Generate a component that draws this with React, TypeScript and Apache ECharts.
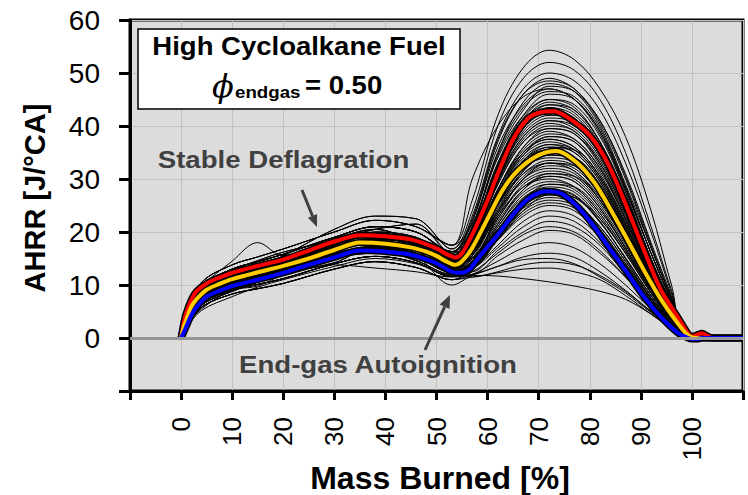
import React, { useEffect, useRef } from "react";
import * as echarts from "echarts";

// ---------- tick labels ----------
const xTickValues = [0, 10, 20, 30, 40, 50, 60, 70, 80, 90, 100];
const yTickValues = [0, 10, 20, 30, 40, 50, 60];

// ---------- individual cycles (thin black lines) ----------
// sample positions (mass burned %) for each cycle
const cycleX = [0, 1, 4, 10, 15, 20, 30, 38, 46, 53, 57, 62, 67, 72, 77, 82, 87, 92, 96, 99, 110];

// deflagration-phase profiles (x = 0 .. 53)
const cycleEarly: number[][] = [
  [0, 4.8, 10.5, 13.8, 15.3, 16.8, 20.0, 22.2, 21.0, 17.5],
  [0, 4.4, 9.8, 13.0, 14.4, 15.8, 19.0, 21.0, 20.0, 16.3],
  [0, 4.0, 9.3, 12.4, 13.7, 15.0, 18.0, 19.6, 18.5, 15.3],
  [0, 3.7, 8.8, 11.8, 13.0, 14.3, 17.3, 18.7, 17.6, 14.5],
  [0, 3.4, 8.3, 11.1, 12.4, 13.6, 16.6, 18.0, 16.8, 13.8],
  [0, 3.0, 7.8, 10.5, 11.7, 12.9, 15.8, 17.2, 16.0, 13.1],
  [0, 2.7, 7.2, 9.8, 11.0, 12.1, 15.0, 16.4, 15.2, 12.4],
  [0, 2.3, 6.5, 9.0, 10.1, 11.2, 14.0, 15.4, 14.2, 11.6],
  [0, 2.0, 5.8, 8.3, 9.3, 10.3, 13.0, 14.4, 13.3, 11.0],
  [0, 3.6, 9.5, 14.5, 18.0, 15.5, 17.0, 19.0, 17.5, 14.0],
  [0, 2.2, 5.5, 9.0, 9.8, 12.0, 15.5, 17.0, 16.5, 13.5],
  [0, 4.2, 9.8, 12.5, 13.5, 15.5, 20.5, 23.0, 22.5, 16.8],
  [0, 3.2, 8.0, 10.8, 12.2, 13.4, 16.0, 17.4, 15.5, 10.0],
  [0, 2.5, 6.8, 9.5, 10.8, 11.8, 13.8, 13.2, 12.5, 11.5],
  [0, 4.5, 10.0, 12.8, 14.6, 16.2, 18.5, 20.5, 21.5, 16.0],
  [0, 3.1, 7.5, 11.5, 13.5, 14.0, 18.5, 20.5, 18.0, 14.8],
  [0, 2.9, 7.6, 10.2, 12.9, 14.5, 16.0, 16.8, 17.0, 14.2],
  [0, 3.8, 8.6, 11.0, 11.5, 12.5, 17.5, 19.2, 17.0, 13.2],
  [0, 2.6, 7.0, 10.6, 12.0, 12.4, 14.2, 17.2, 16.4, 12.8],
  [0, 3.5, 8.5, 12.0, 13.2, 13.8, 15.2, 16.0, 15.5, 13.4],
  [0, 4.1, 9.0, 11.4, 12.0, 14.8, 17.8, 18.4, 18.6, 15.0],
  [0, 2.4, 6.2, 8.8, 10.6, 12.6, 15.4, 16.6, 14.6, 12.0],
  [0, 3.3, 8.4, 12.2, 14.0, 14.6, 17.0, 20.0, 19.0, 15.6],
  [0, 1.8, 5.2, 7.8, 9.6, 11.0, 13.5, 15.0, 14.0, 11.8],
];

// end-gas / combustion-phase profiles (x = 57 .. 110), one per cycle
const cycleLate: number[][] = [
  [26, 42, 51, 54.3, 52.5, 47, 38, 24, 10, 1, 0],
  [24, 40, 49, 52, 50.5, 45, 35, 21, 9, 1, 0],
  [23, 38, 47, 50, 48.5, 43, 33, 20, 8.5, 0.8, 0],
  [22, 37, 46, 49, 47, 41, 31, 18, 8, 0.8, 0],
  [21, 35, 44.5, 48, 46.5, 40, 29, 17, 7.5, 0.7, 0],
  [22, 36, 44, 47, 45, 38.5, 28, 16, 7, 0.7, 0],
  [20, 33, 42, 46, 45, 39, 28, 16, 7, 0.7, 0],
  [21, 34, 42, 45, 43.5, 37, 27, 15, 6.5, 0.6, 0],
  [19, 31, 40, 44, 43, 37, 26.5, 14.5, 6.5, 0.6, 0],
  [20, 31.5, 40, 43, 41.5, 35.5, 25.5, 14, 6, 0.6, 0],
  [18.5, 30, 39, 42, 41, 35, 25, 13.5, 6, 0.5, 0],
  [19, 30, 38, 41, 39.5, 34, 24, 13, 5.8, 0.5, 0],
  [18, 29, 37, 40, 39, 33, 23.5, 12.5, 5.5, 0.5, 0],
  [17.5, 28, 36, 39, 37.5, 32, 22.5, 12, 5.2, 0.5, 0],
  [17, 27, 35, 38, 37, 31, 22, 12, 5, 0.5, 0],
  [17.5, 27, 34.5, 37, 35.5, 30, 21, 11.5, 5, 0.5, 0],
  [16.5, 26, 33.5, 36, 35, 29.5, 20.5, 11, 4.8, 0.4, 0],
  [17, 26.5, 33, 35, 33.5, 28, 19.5, 10.5, 4.5, 0.4, 0],
  [16, 25, 32, 34, 33, 27.5, 19, 10, 4.3, 0.4, 0],
  [16.5, 25, 31, 33, 31.5, 26.5, 18.5, 10, 4.2, 0.4, 0],
  [15.5, 23.5, 30, 32, 31, 26, 18, 9.5, 4, 0.4, 0],
  [15, 22.5, 29, 31, 30, 25, 17.5, 9.3, 4, 0.3, 0],
  [15.5, 23, 28.5, 30, 28.5, 23.5, 16.5, 9, 3.8, 0.3, 0],
  [14.5, 21, 27, 29, 28, 23, 16, 8.5, 3.5, 0.3, 0],
  [14, 20, 26, 28, 27, 22, 15, 8, 3.3, 0.3, 0],
  [14.5, 20.5, 25, 27, 25.5, 21, 14.5, 7.5, 3.2, 0.3, 0],
  [13.5, 19, 24, 26, 25, 20.5, 14, 7.5, 3, 0.3, 0],
  [13.5, 18.5, 23, 25, 24, 19.5, 13.5, 7, 3, 0.3, 0],
  [13, 17.5, 22, 24, 23, 19, 13, 7, 2.8, 0.2, 0],
  [13, 17, 21, 23, 22, 18, 12.5, 6.5, 2.7, 0.2, 0],
  [12.5, 16.5, 20, 22, 21, 17.5, 12, 6.5, 2.6, 0.2, 0],
  [12.5, 16, 19.5, 21, 20, 16.5, 11.5, 6, 2.5, 0.2, 0],
  [12, 15.5, 18.5, 20.3, 19.5, 16, 11.5, 6, 2.5, 0.2, 0],
  [12, 14.5, 17, 18, 17, 14, 10, 5.5, 2.3, 0.2, 0],
  [11.8, 13.5, 15.3, 16, 15.2, 12.5, 9, 5, 2, 0.2, 0],
  [12, 13.5, 14.8, 15, 14, 11.5, 8.5, 4.8, 2, 0.2, 0],
  [11.5, 12.5, 13.8, 14.3, 13.8, 11.8, 8.8, 5, 2, 0.2, 0],
  [11.5, 12.3, 13, 13.2, 12.5, 11, 8, 4.5, 1.8, 0.2, 0],
  [11.8, 11.7, 11.2, 10.6, 9.8, 8.8, 7.3, 4.5, 1.8, 0.2, 0],
  [16.5, 26, 33.5, 35.5, 34, 28.5, 20, 11, 4.6, 0.4, 0],
  [18, 28, 35, 37.5, 36, 30.5, 21.5, 11.5, 5, 0.5, 0],
  [15.5, 24, 30.5, 33, 32, 27, 19, 10, 4.2, 0.4, 0],
  [18.5, 29.5, 37.5, 40.5, 39, 33.5, 24, 13, 5.5, 0.5, 0],
  [14.5, 22, 28, 30.5, 29.5, 24.5, 17, 9, 3.8, 0.3, 0],
  [19.5, 31, 39.5, 42.5, 41, 35, 25, 13.5, 6, 0.5, 0],
  [17, 26.5, 33.5, 36.5, 35.5, 30, 21, 11.5, 4.8, 0.4, 0],
  [13.5, 20, 25.5, 27.5, 26.5, 22, 15, 8, 3.3, 0.3, 0],
  [20, 32.5, 41, 44.5, 43, 37, 26.5, 14.5, 6.3, 0.6, 0],
  [30, 40, 45.5, 47, 45, 39, 28.5, 16, 7, 0.7, 0],
  [15, 23.5, 30, 32.5, 31.5, 26, 18, 9.5, 4, 0.4, 0],
  [20.5, 33, 41.5, 45, 44, 38, 27.5, 15, 6.5, 0.6, 0],
  [19, 31.5, 40, 43.5, 42, 36, 26, 14, 6, 0.6, 0],
  [18.5, 30.5, 38.5, 41.5, 40.5, 34.5, 24.5, 13.5, 5.8, 0.5, 0],
  [18, 29, 37, 39.5, 38.5, 32.5, 23, 12.5, 5.4, 0.5, 0],
  [17.5, 28, 35.5, 38.5, 37.5, 32, 22.5, 12, 5.2, 0.5, 0],
  [17, 27.5, 35, 37.5, 36, 30.5, 21.5, 11.5, 5, 0.5, 0],
  [16.5, 26.5, 34, 36.5, 35, 29.5, 20.5, 11, 4.8, 0.4, 0],
  [16, 25.5, 32.5, 35, 34, 28.5, 20, 10.5, 4.6, 0.4, 0],
  [16, 25, 31.5, 34.5, 33.5, 28, 19.5, 10.5, 4.4, 0.4, 0],
  [15.5, 24.5, 31, 33.5, 32.5, 27, 19, 10, 4.2, 0.4, 0],
  [16, 24, 29.5, 31.5, 30.5, 25.5, 18, 9.5, 4, 0.4, 0],
  [15, 22.5, 28.5, 30.5, 29.5, 24.5, 17, 9, 3.8, 0.3, 0],
  [14.5, 21.5, 27.5, 29.5, 28.5, 23.5, 16.5, 8.8, 3.6, 0.3, 0],
  [14, 21, 26.5, 28.5, 27.5, 22.5, 16, 8.5, 3.4, 0.3, 0],
  [14, 20.5, 25.5, 27.8, 26.8, 21.8, 15.2, 8, 3.3, 0.3, 0],
  [13.5, 19.5, 24.5, 26.5, 25.5, 21, 14.5, 7.6, 3.1, 0.3, 0],
  [13.5, 18.5, 23.5, 25.5, 24.5, 20, 14, 7.3, 3, 0.3, 0],
  [21.5, 35, 43.5, 46.5, 45.5, 39.5, 28.5, 16, 7, 0.7, 0],
  [22.5, 37.5, 46, 48.5, 47, 40.5, 30, 17, 7.5, 0.7, 0],
  [21, 34.5, 43, 47.5, 46.5, 41, 30.5, 17.5, 7.5, 0.7, 0],
  [19.5, 32, 41, 44, 42.5, 36.5, 26, 14.5, 6.2, 0.6, 0],
  [18, 29.5, 38, 41, 40, 34.5, 24.5, 13.5, 5.8, 0.5, 0],
  [17, 28, 36, 39.5, 38.5, 33, 23.5, 12.8, 5.4, 0.5, 0],
  [16.5, 27, 34.5, 38, 37, 31.5, 22.5, 12.2, 5.2, 0.5, 0],
  [15.5, 25.5, 33, 36, 35.5, 30.5, 21.5, 11.8, 5, 0.4, 0],
  [15, 24, 31.5, 34.5, 34, 29, 20.5, 11, 4.6, 0.4, 0],
  [14.5, 23, 30, 33, 32.5, 27.5, 19.5, 10.5, 4.4, 0.4, 0],
  [14, 21.5, 28, 31, 30.5, 26, 18.5, 10, 4.2, 0.4, 0],
  [13.5, 20, 26, 29, 28.5, 24, 17, 9, 3.8, 0.3, 0],
  [13, 18.5, 24, 27, 26.5, 22.5, 16, 8.5, 3.5, 0.3, 0],
];

// which deflagration profile each cycle follows
const cycleEarlyIdx = [
  0, 11, 1, 14, 22, 1, 20, 2, 15, 4, 9, 2, 3, 17, 1, 5, 3, 4, 6, 19, 5, 16, 7, 3, 18,
  5, 7, 4, 8, 21, 6, 7, 10, 8, 12, 23, 6, 8, 13, 3, 2, 5, 20, 6, 1, 4, 21, 22, 0, 15,
  1, 2, 14, 3, 22, 2, 4, 3, 15, 5, 4, 16, 6, 5, 18, 7, 19, 0, 11, 1, 20, 2, 17, 3, 4,
  5, 6, 7, 21, 8,
];

// ---------- statistic curves ----------
const redCurve: [number, number][] = [
  [0, 0], [0.5, 2.8], [1, 4.7], [2, 7.2], [3, 8.8], [5, 10.3], [7.5, 11.4], [10, 12.3],
  [15, 13.6], [20, 14.8], [25, 16.5], [30, 18.2], [35, 19.4], [40, 19.2], [45, 18.6],
  [50, 16.9], [52, 15.8], [53.7, 15.2], [55, 16], [57, 19.5], [60, 26], [62, 31],
  [65, 37.5], [68, 41.5], [70.4, 42.6], [73, 42.8], [76.9, 40.8], [80.2, 38], [83.5, 33],
  [86.7, 26], [90.6, 16.6], [93.9, 9.1], [97.2, 4], [99.2, 0.9], [100, 0.3], [101, 0.6],
  [102, 0.9], [103, 0.4], [104, 0], [110, 0],
];
const yellowCurve: [number, number][] = [
  [0, 0], [0.5, 2], [1, 3.4], [2, 5.9], [3, 7.3], [5, 9.1], [7.5, 10.2], [10, 11.1],
  [15, 12.4], [20, 13.6], [25, 15], [30, 16.6], [35, 18], [40, 17.8], [45, 17.1],
  [48, 16.3], [50, 15.5], [52, 14.4], [53.7, 13.8], [55, 14.5], [57, 17], [60, 22.5],
  [63, 28], [66, 31.7], [70, 34.5], [73.5, 35.3], [77.6, 33], [81, 29.2], [84, 24.4],
  [87.4, 18.5], [90.6, 12.8], [94, 7.2], [97.2, 2.8], [98.8, 0.9], [100, 0.1], [101, 0],
  [110, 0],
];
const blueCurve: [number, number][] = [
  [0, 0], [0.5, 1], [1, 2.1], [2, 4.3], [3, 5.8], [5, 7.8], [7.5, 8.9], [10, 9.8],
  [15, 11], [20, 12.3], [25, 13.8], [30, 15.2], [35, 16.5], [40, 16.3], [45, 15.7],
  [50, 14.1], [53, 12.5], [55, 12.3], [56.5, 13], [58, 14.8], [60, 17.2], [62, 19.5],
  [65, 23.3], [68, 26.3], [71.5, 27.7], [74.3, 27.3], [77.6, 24.8], [80.9, 21],
  [84.1, 16.6], [87.4, 12.2], [90.6, 7.8], [93.9, 4], [97.2, 1], [99, 0.1], [100, -0.2],
  [101, -0.2], [102, 0], [110, 0],
];

const FONT = "'Liberation Sans', Arial, Helvetica, sans-serif";
const ANNOT = "#404040";

function buildOption(): any {
  const thinSeries = cycleLate.map((late, i) => {
    const ys = cycleEarly[cycleEarlyIdx[i]].concat(late);
    return {
      type: "line",
      data: cycleX.map((x, j) => [x, ys[j]]),
      smooth: 0.35,
      symbol: "none",
      silent: true,
      lineStyle: { color: "#000", width: 1 },
      z: 2,
    };
  });

  const stats = [
    { data: redCurve, color: "#ff0000" },
    { data: yellowCurve, color: "#ffcc00" },
    { data: blueCurve, color: "#0000ff" },
  ];
  const underlays = stats.map((s) => ({
    type: "line",
    data: s.data,
    smooth: 0.3,
    symbol: "none",
    silent: true,
    lineStyle: { color: "#000", width: 7 },
    z: 3,
  }));
  const colored = stats.map((s) => ({
    type: "line",
    data: s.data,
    smooth: 0.3,
    symbol: "none",
    silent: true,
    lineStyle: { color: s.color, width: 4 },
    z: 4,
  }));

  const zeroLine = {
    type: "line",
    data: [],
    symbol: "none",
    silent: true,
    z: 1,
    markLine: {
      silent: true,
      symbol: "none",
      label: { show: false },
      lineStyle: { color: "#969696", width: 3, type: "solid" },
      data: [{ yAxis: 0 }],
    },
  };

  const txt = (
    x: number,
    y: number,
    text: string,
    size: number,
    extra: any = {},
    style: any = {}
  ) => ({
    type: "text",
    x,
    y,
    z: 101,
    ...extra,
    style: {
      text,
      fontSize: size,
      fontWeight: "bold",
      fontFamily: FONT,
      fill: "#000",
      align: "center",
      verticalAlign: "middle",
      textAlign: "center",
      textVerticalAlign: "middle",
      ...style,
    },
  });

  return {
    animation: false,
    textStyle: { fontFamily: FONT },
    grid: {
      left: 130,
      right: 5,
      top: 20,
      bottom: 104,
      show: true,
      backgroundColor: "#dcdcdc",
      borderColor: "#000",
      borderWidth: 3,
    },
    xAxis: {
      type: "value",
      min: -10,
      max: 110,
      interval: 10,
      axisLine: { show: true, onZero: false, lineStyle: { color: "#000", width: 3 } },
      axisTick: { show: true, inside: false, length: 9, lineStyle: { color: "#000", width: 3 } },
      axisLabel: {
        rotate: 90,
        margin: 26,
        fontSize: 26,
        color: "#000",
        fontFamily: FONT,
        formatter: (v: number) => (xTickValues.includes(v) ? String(v) : ""),
      },
      splitLine: { show: true, lineStyle: { color: "#c2c2c2", width: 1 } },
    },
    yAxis: {
      type: "value",
      min: -10,
      max: 60,
      interval: 10,
      axisLine: { show: true, onZero: false, lineStyle: { color: "#000", width: 3 } },
      axisTick: { show: true, inside: false, length: 11, lineStyle: { color: "#000", width: 3 } },
      axisLabel: {
        margin: 30,
        fontSize: 28,
        color: "#000",
        fontFamily: FONT,
        formatter: (v: number) => (yTickValues.includes(v) ? String(v) : ""),
      },
      splitLine: { show: true, lineStyle: { color: "#c2c2c2", width: 1 } },
    },
    series: [zeroLine, ...thinSeries, ...underlays, ...colored],
    graphic: [
      {
        type: "rect",
        z: 100,
        shape: { x: 138, y: 29, width: 322, height: 80 },
        style: { fill: "#fff", stroke: "#000", lineWidth: 1.5 },
      },
      txt(299, 46, "High Cycloalkane Fuel", 25, { scaleX: 1.1 }),
      txt(223, 86, "ϕ", 32, {}, {
        fontWeight: "normal",
        fontStyle: "italic",
        fontFamily: "'DejaVu Serif', serif",
      }),
      txt(235, 92, "endgas", 17, { scaleX: 1.1 }, { align: "left", textAlign: "left" }),
      txt(305, 85, "= 0.50", 25, { scaleX: 1.1 }, { align: "left", textAlign: "left" }),
      txt(440, 478, "Mass Burned [%]", 32),
      txt(35, 198, "AHRR [J/°CA]", 29, { rotation: Math.PI / 2 }),
      txt(283.5, 160, "Stable Deflagration", 24, { scaleX: 1.15 }, { fill: ANNOT }),
      txt(378, 365, "End-gas Autoignition", 24, { scaleX: 1.15 }, { fill: ANNOT }),
      {
        type: "line",
        z: 100,
        shape: { x1: 302, y1: 190, x2: 312.5, y2: 216 },
        style: { stroke: ANNOT, lineWidth: 3 },
      },
      {
        type: "polygon",
        z: 100,
        shape: { points: [[317, 227], [307.9, 217.8], [317.1, 214]] },
        style: { fill: ANNOT },
      },
      {
        type: "line",
        z: 100,
        shape: { x1: 425, y1: 350, x2: 444.6, y2: 306.8 },
        style: { stroke: ANNOT, lineWidth: 3 },
      },
      {
        type: "polygon",
        z: 100,
        shape: { points: [[450, 295], [449.6, 309.1], [439.6, 304.5]] },
        style: { fill: ANNOT },
      },
    ],
  };
}

export default function App() {
  const ref = useRef<HTMLDivElement>(null);
  useEffect(() => {
    if (!ref.current) return;
    const chart = echarts.init(ref.current, undefined, { renderer: "svg" });
    chart.setOption(buildOption());
    return () => chart.dispose();
  }, []);
  return (
    <div
      ref={ref}
      style={{ position: "fixed", left: 0, top: 0, width: 748, height: 495, background: "#fff" }}
    />
  );
}
